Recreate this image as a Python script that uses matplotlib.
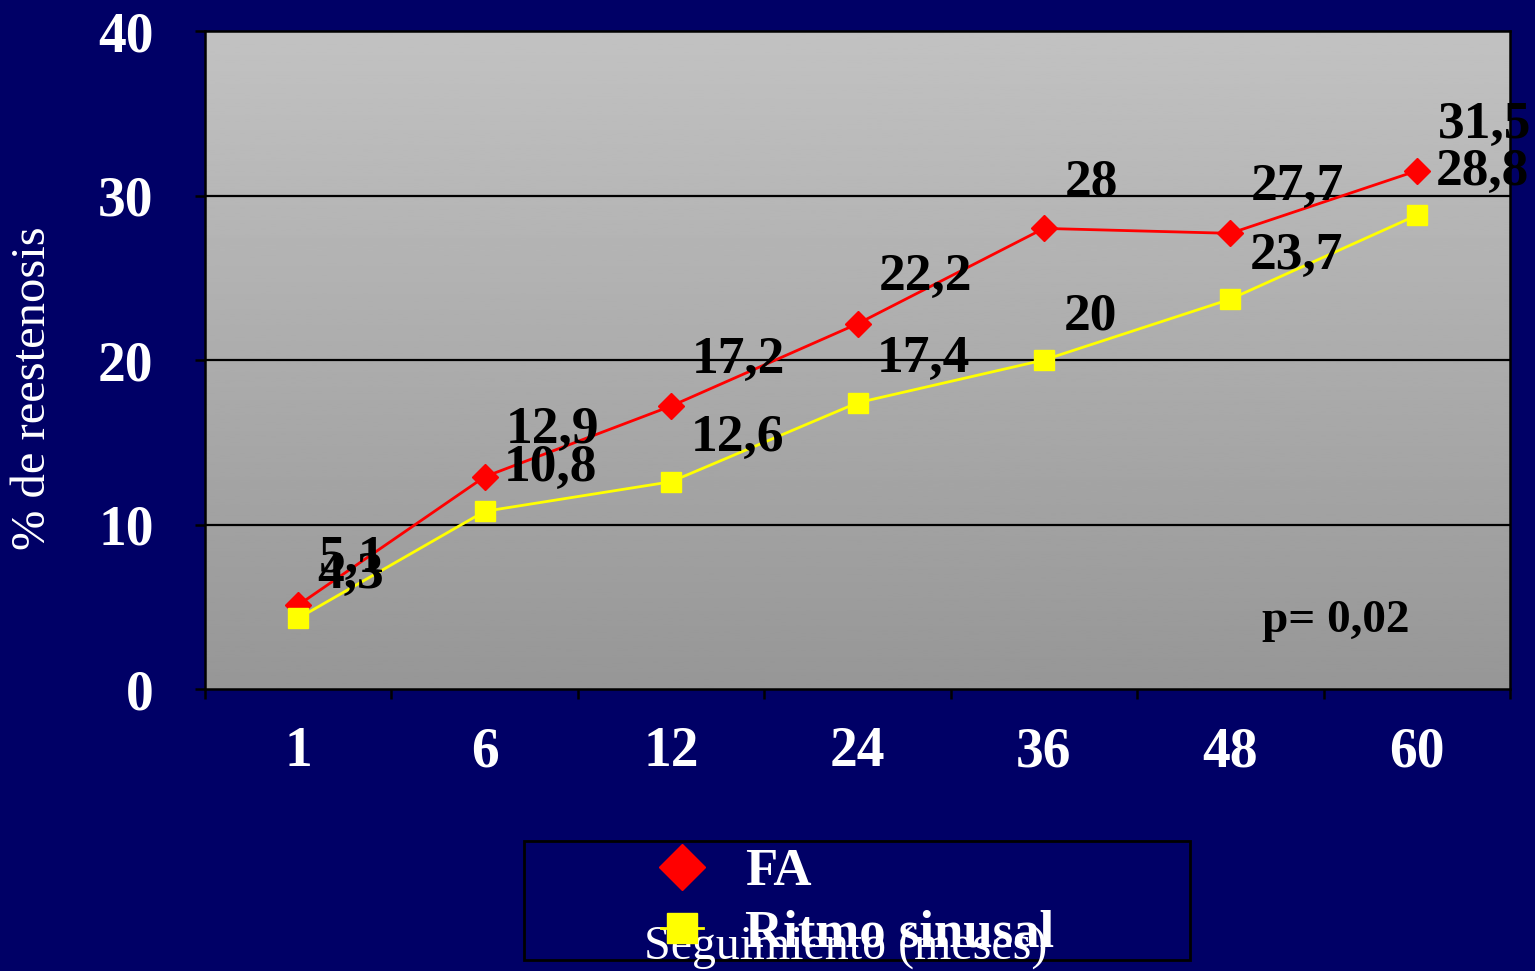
import numpy as np
import matplotlib
matplotlib.use("Agg")
import matplotlib.pyplot as plt
from matplotlib.lines import Line2D
from matplotlib.patches import Rectangle

# follow-up months and restenosis rates
meses = ['1', '6', '12', '24', '36', '48', '60']
fa = [5.1, 12.9, 17.2, 22.2, 28, 27.7, 31.5]
ritmo = [4.3, 10.8, 12.6, 17.4, 20, 23.7, 28.8]

navy = '#000066'
plt.rcParams['font.family'] = ['Liberation Serif', 'DejaVu Serif']

W, H = 1535, 971
fig = plt.figure(figsize=(W / 100, H / 100), dpi=100, facecolor=navy)
ax = fig.add_axes([205/W, 1 - 689/H, 1305/W, 658/H])

x = np.arange(len(meses))
ax.set_xlim(-0.5, len(meses) - 0.5)
ax.set_ylim(0, 40)

# grey gradient plot area
grad = np.linspace(0.59, 0.76, 256).reshape(-1, 1)
ax.imshow(grad, cmap='gray', vmin=0, vmax=1, aspect='auto', origin='lower',
          extent=(-0.5, len(meses) - 0.5, 0, 40), zorder=0)

for yv in (10, 20, 30):
    ax.axhline(yv, color='black', lw=1.6, zorder=1)

ax.plot(x, fa, color='#ff0000', lw=2, marker='D', ms=13, mec='#ff0000', zorder=3)
ax.plot(x, ritmo, color='#ffff00', lw=2, marker='s', ms=14, mec='#ffff00', zorder=3)

def fmt(v):
    return f'{v:g}'.replace('.', ',')

for xi, v in zip(x, fa):
    ax.annotate(fmt(v), (xi, v), xytext=(15, 24), textcoords='offset points',
                fontsize=38.5, fontweight='bold', color='black', va='baseline',
                annotation_clip=False, zorder=4)
for xi, v in zip(x, ritmo):
    ax.annotate(fmt(v), (xi, v), xytext=(14, 22), textcoords='offset points',
                fontsize=38.5, fontweight='bold', color='black', va='baseline',
                annotation_clip=False, zorder=4)

fig.text(1262/W, 1 - 632/H, 'p= 0,02', fontsize=34, fontweight='bold',
         color='black', va='baseline')

ax.set_yticks([0, 10, 20, 30, 40])
ax.set_xticks(x)
ax.set_xticklabels(meses)
ax.set_xticks(np.arange(-0.5, len(meses)), minor=True)
ax.tick_params(axis='x', which='major', length=0, pad=27, labelsize=40,
               labelcolor='white')
ax.tick_params(axis='x', which='minor', length=7, width=1.8, color='black',
               direction='out')
ax.tick_params(axis='y', length=7, width=1.8, color='black', pad=30,
               labelsize=40, labelcolor='white')
for lab in ax.get_xticklabels() + ax.get_yticklabels():
    lab.set_fontweight('bold')
for sp in ax.spines.values():
    sp.set_color('black')
    sp.set_linewidth(1.8)

fig.text(33/W, 1 - 388/H, '% de reestenosis', rotation=90, color='white',
         fontsize=35, ha='center', va='center')

# legend box
fig.patches.append(Rectangle((524/W, 1 - 960/H), 666/W, 119/H,
                             transform=fig.transFigure, facecolor=navy,
                             edgecolor='black', lw=2))
handles = [
    Line2D([], [], color='#ff0000', lw=2, marker='D', ms=23, mec='#ff0000'),
    Line2D([], [], color='#ffff00', lw=2, marker='s', ms=22, mec='#ffff00'),
]
leg = fig.legend(handles, ['FA', 'Ritmo sinusal'], loc='center left',
                 bbox_to_anchor=(661/W, 1 - 903/H), frameon=False,
                 borderpad=0, borderaxespad=0,
                 handlelength=0.8, handletextpad=0.8, labelspacing=0.25,
                 prop={'size': 38, 'weight': 'bold'})
for t in leg.get_texts():
    t.set_color('white')

fig.text(846/W, 1 - 960/H, 'Seguimiento (meses)', color='white',
         fontsize=34.5, ha='center', va='baseline')

fig.savefig('out.png', dpi=100, facecolor=navy)
